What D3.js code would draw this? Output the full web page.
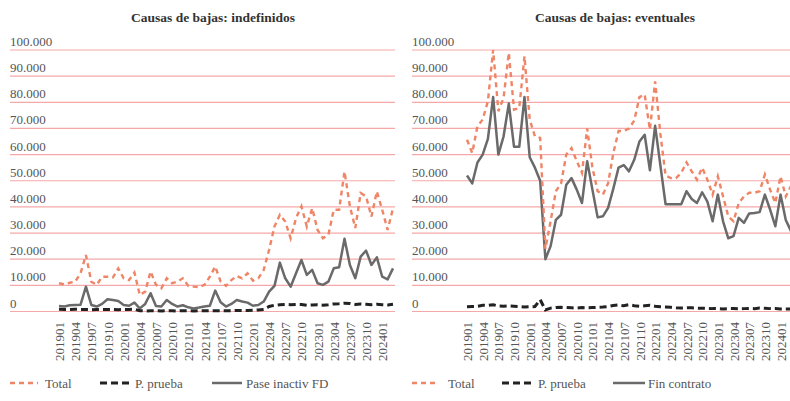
<!DOCTYPE html>
<html>
<head>
<meta charset="utf-8">
<script src="https://cdn.jsdelivr.net/npm/d3@7"></script>
<style>
    body { margin: 0; background: #ffffff; }
    svg { display: block; }
    text { font-family: "Liberation Serif", "DejaVu Serif", serif; }
</style>
</head>
<body>
<script>
// maanden van de data (201901 t/m 202403)
var months = ["201901","201902","201903","201904","201905","201906","201907","201908","201909","201910","201911","201912",
              "202001","202002","202003","202004","202005","202006","202007","202008","202009","202010","202011","202012",
              "202101","202102","202103","202104","202105","202106","202107","202108","202109","202110","202111","202112",
              "202201","202202","202203","202204","202205","202206","202207","202208","202209","202210","202211","202212",
              "202301","202302","202303","202304","202305","202306","202307","202308","202309","202310","202311","202312",
              "202401","202402","202403"];

var tickLabels = ["201901","201904","201907","201910","202001","202004","202007","202010","202101","202104","202107",
                  "202110","202201","202204","202207","202210","202301","202304","202307","202310","202401"];

var yTicks = [0, 10000, 20000, 30000, 40000, 50000, 60000, 70000, 80000, 90000, 100000];

// indefinidos (in duizenden)
var indefTotal = [10.8,10.4,11,11.4,14.6,21.6,11.4,10.2,13.3,13.3, 13,16.5,12.7,12,14.9,6.3,7.6,15.3,10.2,8.9,
                  12.7,10.8,11.4,12.7,9.8,9.5,9.3,10.2,13.3,17.2, 11.5,9.8,12,13.6,12.7,14.6,11.8,12.7,15.9,23.6,
                  32.5,37,34.4,28,35.7,40.2,32.5,39.5,31.2,28, 29.3,38.9,38.9,53.5,40.2,31.9,45.3,44,36.3,45.9,
                  38.9,31.2,39.5];
var indefPrueba = [0.9,0.8,0.8,0.9,0.8,0.8,0.7,0.8,0.8,0.8, 0.8,0.7,0.8,0.8,0.9,0.3,0.2,0.3,0.3,0.2,
                   0.3,0.3,0.2,0.3,0.3,0.2,0.3,0.3,0.3,0.3, 0.3,0.3,0.3,0.4,0.4,0.4,0.5,0.6,0.8,1.9,
                   2.4,2.6,2.7,2.6,2.7,2.7,2.4,2.5,2.6,2.4, 2.6,2.9,3.0,3.2,3.1,2.7,2.9,2.8,2.6,2.8,
                   2.6,2.5,2.8];
var indefPase = [2.1,1.9,2.4,2.5,2.6,9.5,2.5,1.9,2.9,4.7, 4.4,4,2.5,2.2,3.4,1.2,2.9,7,2.1,1.9,
                 4.4,2.9,1.9,2.4,1.6,1.2,1.5,1.9,2.2,8, 3.5,1.9,2.9,4.4,3.8,3.4,2.2,2.5,3.8,7.6,
                 9.8,18.7,12.7,9.5,14.6,19.7,14,15.9,10.8,10.2, 11.4,16.5,16.9,27.8,17.8,12.7,21,23.3,17.8,20.7,
                 13.3,12.3,16.5];

// eventuales (in duizenden)
var eventTotal = [65.7,60.6,70.8,73.4,80.4,100,76.6,81.7,98.9,77.2, 77.8,97.6,73.4,67,66.4,24,34.5,46,49,60,
                  62.5,57.5,53,70,55,46,44.7,49,60.6,69, 69,70,73,82,83,69.5,88,68,52,51,
                  51,53,57,53.6,50.4,55,50.4,44.7,51.7,44, 36.4,34.5,41.5,44,45.4,45.4,46,52.4,46.6,41.5,
                  51.7,44,48];
var eventPrueba = [1.8,1.9,2.0,2.4,2.3,2.6,2.1,2.0,2.1,2.0, 1.9,1.7,1.8,1.9,4.5,0.6,1.3,1.5,1.6,1.5,
                   1.4,1.3,1.5,1.4,1.5,1.6,1.7,1.9,2.3,2.5, 2.2,2.6,2.2,2.0,2.2,2.4,2.0,1.8,1.7,1.6,
                   1.4,1.3,1.4,1.4,1.3,1.2,1.2,1.1,1.1,1.0, 1.1,1.1,1.0,1.1,1.2,1.1,1.3,1.2,1.1,1.1,
                   1.0,1.0,1.0];
var eventFin = [52,49,57,60,66,82,60,67,79.5,63, 63,82,59,55,50,20,25,35,37,48.5,
                51,46.6,41.5,57.5,46.6,36,36.4,39.6,47,55, 56,53.6,58,65,67.6,54,71,56,41,41,
                41,41,46,43,41.5,45.6,42,34.5,44.7,34.5, 28,28.8,35.8,33.9,37.5,37.7,38,44.7,39,32.6,
                44.7,35,30.7];

var gridColor = "#f5a8a8";
var totalColor = "#ef8567";
var pruebaColor = "#222222";
var greyColor = "#6a6a6a";

var svg = d3.select("body").append("svg")
    .attr("width", 790)
    .attr("height", 401);

var y = d3.scaleLinear()
    .domain([0, 100000])
    .range([311.5, 50]);

function draw_Panel(p)
{
    var g = svg.append("g");

    var x = d3.scalePoint()
        .domain(months)
        .range([p.x0, p.x1]);

    // titel
    g.append("text")
        .attr("x", p.titleX)
        .attr("y", 22)
        .attr("text-anchor", "middle")
        .style("font-size", "13.5px")
        .style("font-weight", "bold")
        .style("fill", "#333")
        .text(p.title);

    // rasterlijnen met labels erboven
    g.selectAll(".grid")
        .data(yTicks)
        .enter().append("line")
        .attr("x1", p.gridX0)
        .attr("x2", p.gridX1)
        .attr("y1", d => y(d))
        .attr("y2", d => y(d))
        .style("stroke", gridColor)
        .style("stroke-width", 1.2);

    g.selectAll(".ylab")
        .data(yTicks)
        .enter().append("text")
        .attr("x", p.gridX0)
        .attr("y", d => y(d) - 4)
        .style("font-size", "13px")
        .style("fill", "#555")
        .text(d => d3.format(",")(d).replace(/,/g, "."));

    // x-as labels, gedraaid
    var xAxis = d3.axisBottom(x)
        .tickValues(tickLabels)
        .tickSize(0)
        .tickPadding(0);

    var ax = g.append("g")
        .attr("transform", "translate(0, 322)")
        .call(xAxis);
    ax.select(".domain").remove();
    ax.selectAll("text")
        .attr("transform", "rotate(-90)")
        .attr("x", 0)
        .attr("y", 0)
        .attr("dy", "0.35em")
        .attr("text-anchor", "end")
        .style("font-family", "'Liberation Serif', serif")
        .style("font-size", "13px")
        .style("fill", "#555");

    var line = d3.line()
        .x((d, i) => x(months[i]))
        .y(d => y(d * 1000));

    g.append("path")
        .datum(p.grey)
        .attr("d", line)
        .style("fill", "none")
        .style("stroke", greyColor)
        .style("stroke-width", 2.5)
        .style("stroke-linejoin", "round");

    g.append("path")
        .datum(p.prueba)
        .attr("d", line)
        .style("fill", "none")
        .style("stroke", pruebaColor)
        .style("stroke-width", 3)
        .style("stroke-dasharray", "7,4");

    g.append("path")
        .datum(p.total)
        .attr("d", line)
        .style("fill", "none")
        .style("stroke", totalColor)
        .style("stroke-width", 2.4)
        .style("stroke-dasharray", "5,4");

    // legenda
    var legend = [
        {label: "Total", color: totalColor, dash: "5,4", w: 2.4, x1: p.leg[0], x2: p.leg[1], tx: p.leg[2]},
        {label: "P. prueba", color: pruebaColor, dash: "7,4", w: 3, x1: p.leg[3], x2: p.leg[4], tx: p.leg[5]},
        {label: p.greyName, color: greyColor, dash: null, w: 2.5, x1: p.leg[6], x2: p.leg[7], tx: p.leg[8]}
    ];

    legend.forEach(function(l)
    {
        g.append("line")
            .attr("x1", l.x1)
            .attr("x2", l.x2)
            .attr("y1", 383)
            .attr("y2", 383)
            .style("stroke", l.color)
            .style("stroke-width", l.w)
            .style("stroke-dasharray", l.dash);
        g.append("text")
            .attr("x", l.tx)
            .attr("y", 387.5)
            .style("font-size", "13px")
            .style("fill", "#555")
            .text(l.label);
    });
}

draw_Panel({
    title: "Causas de bajas: indefinidos",
    titleX: 213,
    gridX0: 10, gridX1: 395,
    x0: 59, x1: 393,
    total: indefTotal, prueba: indefPrueba, grey: indefPase,
    greyName: "Pase inactiv FD",
    leg: [10, 38, 45, 100, 133, 135, 212, 242, 246]
});

draw_Panel({
    title: "Causas de bajas: eventuales",
    titleX: 615,
    gridX0: 412, gridX1: 800,
    x0: 467, x1: 791,
    total: eventTotal, prueba: eventPrueba, grey: eventFin,
    greyName: "Fin contrato",
    leg: [412, 436, 448, 502, 535, 538, 613, 645, 648]
});
</script>
</body>
</html>
